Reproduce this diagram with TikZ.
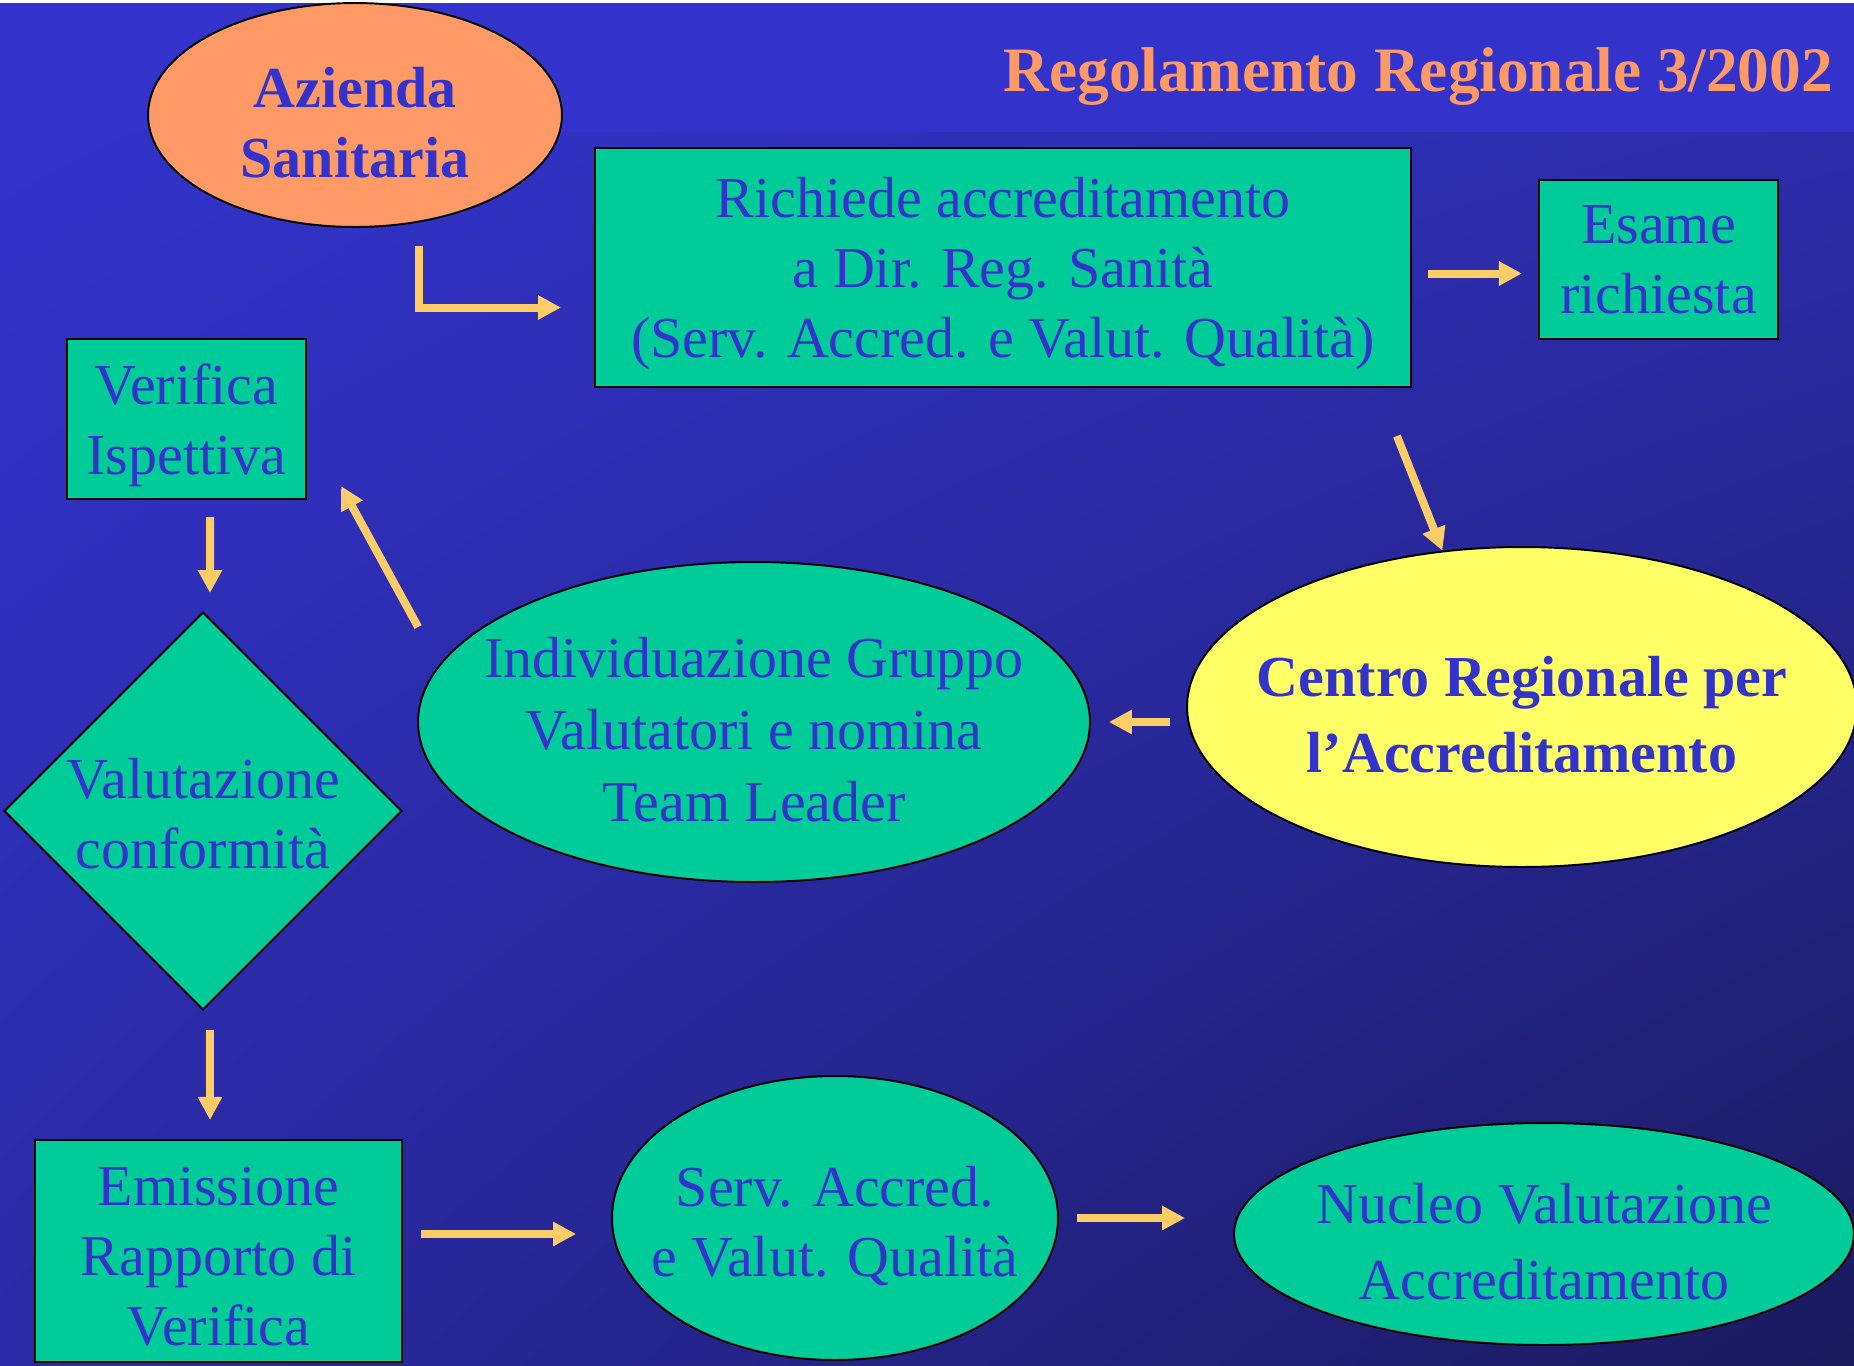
\documentclass[tikz,border=0pt]{standalone}
\usepackage{fontspec}
\setmainfont{Liberation Serif}
\usetikzlibrary{arrows.meta, shapes.geometric, calc, shadings}
\definecolor{bandblue}{HTML}{3333CC}
\definecolor{shadeTR}{HTML}{2C2CAA}
\definecolor{shadeBL}{HTML}{2A2AA6}
\definecolor{shadeBR}{HTML}{1A1A5E}
\definecolor{boxgreen}{HTML}{00CC99}
\definecolor{textblue}{HTML}{3333CC}
\definecolor{ovalorange}{HTML}{FF9966}
\definecolor{ovalyellow}{HTML}{FFFF66}
\definecolor{arrowgold}{HTML}{FFCC66}
\newcommand{\alza}[1]{\rule{0pt}{#1}}
\tikzset{box/.style = {shape = rectangle, draw, line width = 1.2pt, fill = boxgreen, inner sep = 0pt, text depth = 0pt, align = center, text = textblue, font = \fontsize{33}{40}\selectfont}}
\tikzset{oval/.style = {shape = ellipse, draw, line width = 1.1pt, fill = boxgreen, inner xsep = -3cm, inner ysep = 0pt, text depth = 0pt, align = center, text = textblue, font = \fontsize{33}{40}\selectfont}}
\tikzset{rhombus/.style = {shape = diamond, draw, line width = 1.1pt, fill = boxgreen, inner sep = -1cm, text depth = 0pt, align = center, text = textblue, font = \fontsize{33}{40}\selectfont}}
\tikzset{arr/.style = {draw = arrowgold, line width = 0.16cm, -{Triangle[length = 0.46cm, width = 0.46cm]}}}

\begin{document}
\begin{tikzpicture}[x = 0.02cm, y = -0.02cm]
	\useasboundingbox (0, 0) rectangle (1854, 1366);
	% sfondo
	\fill[white] (0, 0) rectangle (1854, 3);
	\fill[bandblue] (0, 3) rectangle (1854, 132);
	\shade[upper left = bandblue, upper right = shadeTR, lower left = shadeBL, lower right = shadeBR] (0, 132) rectangle (1854, 1366);

	\node[anchor = east, text = ovalorange, font = \bfseries\fontsize{36}{40}\selectfont] (titolo) at (1839, 77) {Regolamento Regionale 3/2002};

	\node[oval, fill = ovalorange, font = \bfseries\fontsize{33}{40}\selectfont, minimum width = 8.28cm, minimum height = 4.48cm] (azienda) at (355, 115) {\alza{31pt}Azienda\\Sanitaria};
	\node[box, minimum width = 16.32cm, minimum height = 4.78cm] (richiede) at (1003, 267.5) {Richiede accreditamento\\a Dir. Reg. Sanità\\(Serv. Accred. e Valut. Qualità)};
	\node[box, minimum width = 4.78cm, minimum height = 3.18cm] (esame) at (1658.5, 259.5) {Esame\\richiesta};
	\node[oval, fill = ovalyellow, font = \bfseries\fontsize{33}{43}\selectfont, minimum width = 13.4cm, minimum height = 6.4cm] (centro) at (1522, 707) {\alza{31pt}Centro Regionale per\\l’Accreditamento};
	\node[oval, font = \fontsize{33}{41}\selectfont, minimum width = 13.44cm, minimum height = 6.4cm] (gruppo) at (754, 722) {\alza{31pt}Individuazione Gruppo\\Valutatori e nomina\\Team Leader};
	\node[box, minimum width = 4.78cm, minimum height = 3.2cm] (verifica) at (186.5, 419) {Verifica\\Ispettiva};
	\node[rhombus, minimum width = 7.96cm, minimum height = 7.96cm] (conformita) at (203, 811) {\alza{26pt}Valutazione\\conformità};
	\node[box, minimum width = 7.34cm, minimum height = 4.44cm] (rapporto) at (218.5, 1251) {\alza{28pt}Emissione\\Rapporto di\\Verifica};
	\node[oval, minimum width = 8.92cm, minimum height = 5.68cm] (servizio) at (835, 1218) {\alza{27pt}Serv. Accred.\\e Valut. Qualità};
	\node[oval, font = \fontsize{33}{43}\selectfont, minimum width = 12.4cm, minimum height = 4.44cm] (nucleo) at (1544, 1234) {\alza{31pt}Nucleo Valutazione\\Accreditamento};

	\draw[arr] ($(azienda.south) + (64, 18)$) |- ($(richiede.west) + (-33, 40)$);
	\draw[arr] ($(richiede.east) + (16, 6)$) -- ($(esame.west) + (-16, 14)$);
	\draw[arr] ($(richiede.south east) + (-15, 48)$) -- (centro.117);
	\draw[arr] ($(centro.west) + (-16, 15)$) -- ($(gruppo.east) + (18, 0)$);
	\draw[arr] ($(gruppo.west) + (1, -95)$) -- ($(verifica.south east) + (34, -14)$);
	\draw[arr] ($(verifica.south) + (23.5, 17)$) -- ($(conformita.north) + (7, -18)$);
	\draw[arr] ($(conformita.south) + (7, 19)$) -- ($(rapporto.north) + (-8.5, -19)$);
	\draw[arr] ($(rapporto.east) + (18, -17)$) -- ($(servizio.west) + (-35, 16)$);
	\draw[arr] ($(servizio.east) + (18, 0)$) -- ($(nucleo.west) + (-48, -16)$);
\end{tikzpicture}
\end{document}
